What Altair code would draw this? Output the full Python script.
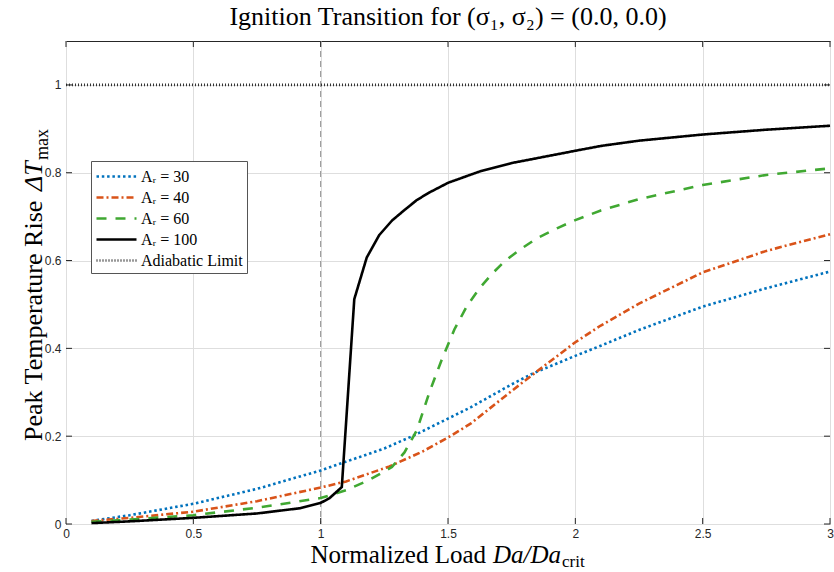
import altair as alt
import pandas as pd

# ---------------- data ----------------
x_ticks = [0, 0.5, 1, 1.5, 2, 2.5, 3]
y_ticks = [0, 0.2, 0.4, 0.6, 0.8, 1.0]

series_labels = ["Aᵣ = 30", "Aᵣ = 40", "Aᵣ = 60", "Aᵣ = 100", "Adiabatic Limit"]
series_colors = ["#0072BD", "#D95319", "#40A832", "#000000", "#333333"]
series_dashes = [[2.5, 2.8], [7, 3, 2, 3], [10, 9], [1, 0], [1, 2]]
series_widths = [2.6, 2.6, 2.6, 2.6, 0.8]

ar30_x = [0.1, 0.25, 0.5, 0.75, 1.0, 1.25, 1.36, 1.5, 1.59, 1.75, 1.83, 2.0, 2.1, 2.25, 2.5, 2.75, 3.0]
ar30_y = [0.007, 0.020, 0.046, 0.080, 0.122, 0.172, 0.200, 0.240, 0.266, 0.318, 0.342, 0.383, 0.406, 0.442, 0.495, 0.537, 0.575]

ar40_x = [0.1, 0.25, 0.5, 0.75, 1.0, 1.1, 1.27, 1.4, 1.5, 1.59, 1.75, 1.83, 2.0, 2.1, 2.25, 2.5, 2.75, 3.0]
ar40_y = [0.007, 0.014, 0.028, 0.052, 0.083, 0.097, 0.131, 0.165, 0.197, 0.229, 0.303, 0.339, 0.414, 0.452, 0.502, 0.573, 0.622, 0.660]

ar60_x = [0.1, 0.25, 0.5, 0.75, 1.0, 1.1, 1.19, 1.28, 1.329, 1.378, 1.427, 1.476, 1.525, 1.575, 1.624,
          1.673, 1.722, 1.78, 1.85, 1.93, 2.0, 2.1, 2.25, 2.5, 2.75, 3.0]
ar60_y = [0.005, 0.010, 0.020, 0.037, 0.059, 0.077, 0.100, 0.130, 0.163, 0.214, 0.300, 0.375, 0.443, 0.497, 0.537,
          0.570, 0.598, 0.624, 0.651, 0.674, 0.692, 0.714, 0.740, 0.772, 0.795, 0.810]

ar100_x = [0.1, 0.25, 0.5, 0.75, 0.92, 1.0, 1.034, 1.083, 1.132, 1.181, 1.230, 1.280, 1.329, 1.378, 1.427,
           1.5, 1.625, 1.75, 2.0, 2.1, 2.25, 2.5, 2.75, 3.0]
ar100_y = [0.002, 0.006, 0.014, 0.024, 0.036, 0.048, 0.0585, 0.084, 0.512, 0.607, 0.658, 0.691, 0.715, 0.738, 0.755,
           0.777, 0.803, 0.822, 0.850, 0.861, 0.873, 0.887, 0.898, 0.907]

limit_x = [0, 3]
limit_y = [1.0, 1.0]

critical_load = [1.0]

# ---------------- tables ----------------
rows = []
for name, xs_, ys_ in zip(series_labels,
                          [ar30_x, ar40_x, ar60_x, ar100_x, limit_x],
                          [ar30_y, ar40_y, ar60_y, ar100_y, limit_y]):
    for i, (a, b) in enumerate(zip(xs_, ys_)):
        rows.append({"series": name, "x": a, "y": b, "i": i})
df = pd.DataFrame(rows)

W, H = 764, 483
SERIF = "Liberation Serif"
SANS = "Liberation Sans"

xscale = alt.Scale(domain=[0, 3], nice=False, zero=False)
yscale = alt.Scale(domain=[0, 1.1], nice=False, zero=False)

xaxis = alt.Axis(values=x_ticks, format="~g", title=None, grid=True, gridColor="#DEDEDE",
                 ticks=False, tickSize=0, domain=False, labelFont=SANS, labelFontSize=12,
                 labelColor="#262626", labelPadding=4, labelFlush=False)
yaxis = alt.Axis(values=y_ticks, format="~g", title=None, grid=True, gridColor="#DEDEDE",
                 ticks=False, tickSize=0, domain=False, labelFont=SANS, labelFontSize=12,
                 labelColor="#262626", labelPadding=5)

X = alt.X("x:Q", scale=xscale, axis=xaxis)
Y = alt.Y("y:Q", scale=yscale, axis=yaxis)

legend = alt.Legend(
    title=None, orient="none", legendX=25, legendY=120,
    symbolType="M -3 0 L 1 0", symbolSize=400, symbolOffset=20,
    labelFont=SERIF, labelFontSize=16, labelColor="#000000", labelOffset=3,
    padding=4, rowPadding=1, strokeColor="#555555", fillColor="#FFFFFF",
)

lines = alt.Chart(df).mark_line(strokeCap="butt").encode(
    x=X, y=Y,
    color=alt.Color("series:N", scale=alt.Scale(domain=series_labels, range=series_colors), legend=legend),
    strokeDash=alt.StrokeDash("series:N", scale=alt.Scale(domain=series_labels, range=series_dashes), legend=legend),
    strokeWidth=alt.StrokeWidth("series:N", scale=alt.Scale(domain=series_labels, range=series_widths), legend=legend),
    order="i:Q",
)

vline = alt.Chart(pd.DataFrame({"x": critical_load})).mark_rule(
    color="#8C8C8C", strokeDash=[6, 4], strokeWidth=1).encode(x=X)

xt = pd.DataFrame({"x": x_ticks})
yt = pd.DataFrame({"y": y_ticks})
tick_color = "#262626"
bottom_ticks = alt.Chart(xt).mark_rule(color=tick_color, strokeWidth=1).encode(
    x=X, y=alt.value(H), y2=alt.value(H - 6))
top_ticks = alt.Chart(xt).mark_rule(color=tick_color, strokeWidth=1).encode(
    x=X, y=alt.value(0), y2=alt.value(6))
left_ticks = alt.Chart(yt).mark_rule(color=tick_color, strokeWidth=1).encode(
    y=Y, x=alt.value(0), x2=alt.value(6))
right_ticks = alt.Chart(yt).mark_rule(color=tick_color, strokeWidth=1).encode(
    y=Y, x=alt.value(W), x2=alt.value(W - 6))

one = pd.DataFrame({"a": [0]})


def txt(text, x, y, size=25, align="left", angle=0, style="normal", baseline="alphabetic"):
    kw = dict(text=text, font=SERIF, fontSize=size, align=align, baseline=baseline,
              color="#000000", fontStyle=style)
    if angle:
        kw["angle"] = angle
    return alt.Chart(one).mark_text(**kw).encode(x=alt.value(x), y=alt.value(y))


title = txt("Ignition Transition for (σ₁, σ₂) = (0.0, 0.0)", W / 2, -16, size=26, align="center")

xt1 = txt("Normalized Load", 420, 522, align="right")
xt2 = txt("Da/Da", 427, 522, style="italic")
xt3 = txt("crit", 496, 526, size=17)

yt1 = txt("Peak Temperature Rise", -24, 400, size=26, angle=270)
yt2 = txt("ΔT", -24, 150, size=26, angle=270, style="italic")
yt3 = txt("max", -18, 119, size=18, angle=270)

chart = alt.layer(
    vline, lines, bottom_ticks, top_ticks, left_ticks, right_ticks,
    title, xt1, xt2, xt3, yt1, yt2, yt3,
).properties(
    width=W, height=H,
    padding={"left": 66, "top": 41, "right": 4, "bottom": 48},
    autosize=alt.AutoSizeParams(type="none"),
).configure_view(stroke="#262626", strokeWidth=1)

chart.save("out.html", embed_options={"renderer": "svg", "actions": False})
